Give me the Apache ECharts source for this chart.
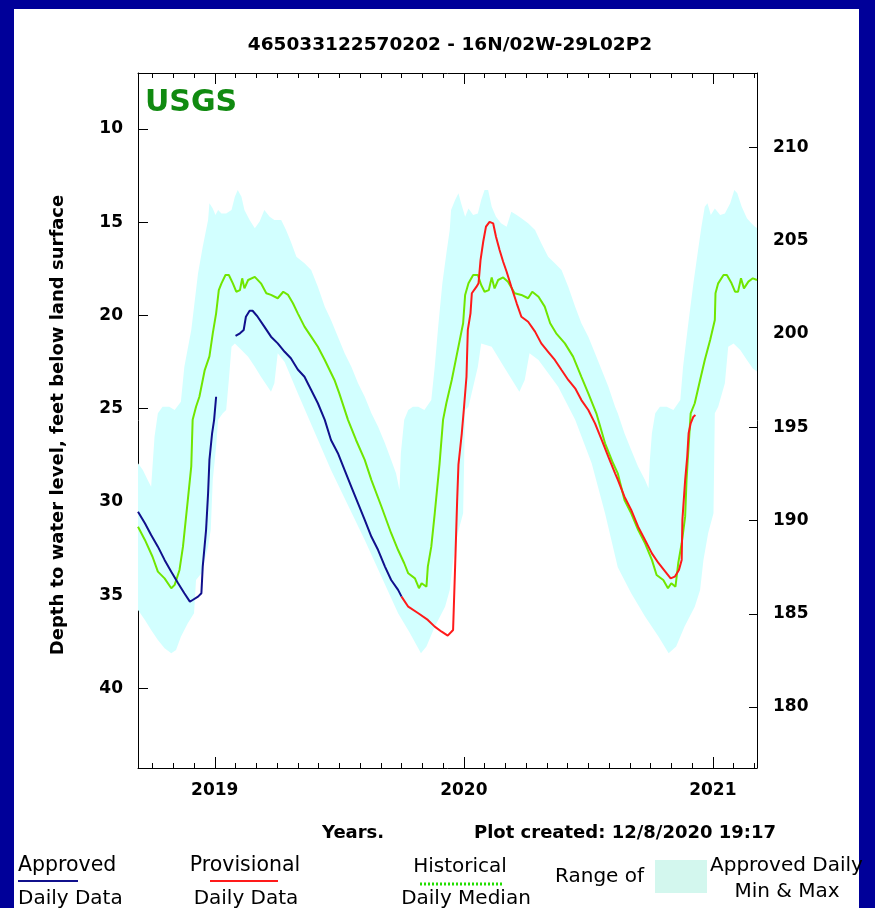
<!DOCTYPE html>
<html>
<head>
<meta charset="utf-8">
<script src="https://cdn.jsdelivr.net/npm/echarts@6/dist/echarts.min.js"></script>
<style>
  html, body { margin: 0; padding: 0; background: #000099; width: 875px; height: 908px; overflow: hidden; }
  #panel { position: absolute; left: 14px; top: 9px; width: 845px; height: 899px; background: #ffffff; }
  #chart { position: absolute; left: 0; top: 0; width: 875px; height: 908px; }
</style>
</head>
<body>
<div id="panel"></div>
<div id="chart"></div>
<script>
// ---------------- data (depth to water, feet below land surface) ----------------
const LAND_SURFACE = 221;            // right axis = land surface elevation - depth
const X_START = '2018-09-10';
const X_END = '2021-03-05';
const DEPTH_TOP = 7.0;
const DEPTH_BOTTOM = 44.27;
const depthTicks = [10, 15, 20, 25, 30, 35, 40];
const yearTicks = ['2019', '2020', '2021'];

const historicalMedian = [
['2018-09-10',31.33],['2018-09-20',32.04],['2018-10-01',32.94],['2018-10-09',33.74],['2018-10-19',34.1],['2018-10-29',34.63],['2018-11-03',34.45],['2018-11-10',33.65],['2018-11-15',32.4],['2018-11-22',29.9],['2018-11-27',28.1],['2018-11-29',25.6],['2018-12-04',24.9],['2018-12-09',24.36],['2018-12-17',22.93],['2018-12-24',22.2],['2018-12-29',20.96],['2019-01-03',19.89],['2019-01-07',18.64],['2019-01-11',18.28],['2019-01-17',17.83],['2019-01-22',17.83],['2019-01-28',18.28],['2019-02-02',18.73],['2019-02-07',18.64],['2019-02-10',18.01],['2019-02-13',18.55],['2019-02-18',18.1],['2019-02-27',17.93],['2019-03-08',18.28],['2019-03-16',18.81],['2019-03-23',18.9],['2019-04-02',19.08],['2019-04-10',18.73],['2019-04-17',18.9],['2019-04-24',19.35],['2019-05-01',19.89],['2019-05-11',20.6],['2019-05-21',21.14],['2019-05-31',21.68],['2019-06-10',22.39],['2019-06-24',23.46],['2019-07-01',24.18],['2019-07-14',25.6],['2019-07-26',26.68],['2019-08-08',27.75],['2019-08-18',28.83],['2019-09-02',30.26],['2019-09-16',31.68],['2019-09-26',32.58],['2019-10-05',33.29],['2019-10-11',33.83],['2019-10-21',34.1],['2019-10-27',34.63],['2019-10-31',34.36],['2019-11-07',34.55],['2019-11-09',33.47],['2019-11-14',32.4],['2019-11-19',30.61],['2019-11-26',27.93],['2019-12-01',25.6],['2019-12-06',24.7],['2019-12-14',23.46],['2019-12-21',22.21],['2019-12-31',20.42],['2020-01-03',18.9],['2020-01-08',18.28],['2020-01-15',17.83],['2020-01-22',17.83],['2020-01-27',18.37],['2020-02-01',18.73],['2020-02-07',18.64],['2020-02-11',17.96],['2020-02-15',18.55],['2020-02-20',18.1],['2020-02-27',17.96],['2020-03-05',18.19],['2020-03-15',18.81],['2020-03-25',18.9],['2020-04-04',19.08],['2020-04-10',18.73],['2020-04-19',19.0],['2020-04-28',19.53],['2020-05-06',20.42],['2020-05-15',20.96],['2020-05-28',21.5],['2020-06-09',22.21],['2020-06-21',23.29],['2020-07-01',24.18],['2020-07-13',25.25],['2020-07-26',26.86],['2020-08-07',27.93],['2020-08-14',28.47],['2020-08-24',29.9],['2020-09-03',30.61],['2020-09-13',31.5],['2020-09-23',32.22],['2020-10-03',33.11],['2020-10-10',33.92],['2020-10-20',34.19],['2020-10-27',34.63],['2020-11-01',34.36],['2020-11-07',34.55],['2020-11-11',33.29],['2020-11-16',32.22],['2020-11-21',30.79],['2020-11-23',28.83],['2020-11-25',27.58],['2020-11-29',25.25],['2020-12-05',24.71],['2020-12-13',23.46],['2020-12-20',22.39],['2020-12-28',21.32],['2021-01-04',20.25],['2021-01-05',18.81],['2021-01-09',18.28],['2021-01-17',17.83],['2021-01-22',17.83],['2021-01-29',18.28],['2021-02-03',18.73],['2021-02-07',18.73],['2021-02-11',18.01],['2021-02-15',18.55],['2021-02-21',18.19],['2021-02-27',18.01],['2021-03-05',18.1]
];

const approvedPart1 = [
['2018-09-10',30.53],['2018-09-20',31.15],['2018-09-29',31.78],['2018-10-09',32.4],['2018-10-19',33.11],['2018-10-29',33.74],['2018-11-08',34.36],['2018-11-17',34.9],['2018-11-25',35.35],['2018-11-29',35.26],['2018-12-07',35.08],['2018-12-12',34.9],['2018-12-14',33.47],['2018-12-19',31.5],['2018-12-22',29.54],['2018-12-24',27.75],['2018-12-28',26.32],['2018-12-31',25.6],['2019-01-03',24.36]
];

const approvedPart2 = [
['2019-02-01',21.1],['2019-02-07',20.96],['2019-02-12',20.78],['2019-02-15',20.07],['2019-02-20',19.75],['2019-02-24',19.75],['2019-03-03',20.07],['2019-03-13',20.6],['2019-03-23',21.14],['2019-04-02',21.5],['2019-04-12',21.95],['2019-04-21',22.3],['2019-05-01',22.9],['2019-05-11',23.29],['2019-05-21',24.0],['2019-05-31',24.71],['2019-06-10',25.6],['2019-06-19',26.68],['2019-06-29',27.39],['2019-07-09',28.29],['2019-07-19',29.19],['2019-07-29',30.08],['2019-08-08',30.97],['2019-08-18',31.87],['2019-08-28',32.58],['2019-09-07',33.47],['2019-09-16',34.19],['2019-09-26',34.72],['2019-10-01',35.08]
];

const provisional = [
['2019-10-01',35.08],['2019-10-11',35.62],['2019-10-26',35.97],['2019-11-09',36.33],['2019-11-19',36.69],['2019-11-29',36.96],['2019-12-08',37.17],['2019-12-16',36.87],['2019-12-19',33.5],['2019-12-22',30.0],['2019-12-24',28.0],['2019-12-27',27.0],['2019-12-29',26.32],['2020-01-01',25.07],['2020-01-05',23.29],['2020-01-07',20.78],['2020-01-11',19.89],['2020-01-13',18.81],['2020-01-20',18.46],['2020-01-23',18.28],['2020-01-26',17.03],['2020-01-30',16.05],['2020-02-03',15.24],['2020-02-08',14.98],['2020-02-13',15.06],['2020-02-17',15.78],['2020-02-22',16.49],['2020-02-27',17.12],['2020-03-03',17.66],['2020-03-10',18.46],['2020-03-18',19.35],['2020-03-25',20.07],['2020-04-04',20.34],['2020-04-14',20.87],['2020-04-23',21.5],['2020-05-03',21.95],['2020-05-13',22.39],['2020-05-23',22.93],['2020-06-02',23.46],['2020-06-12',23.91],['2020-06-21',24.54],['2020-07-01',25.07],['2020-07-11',25.79],['2020-07-21',26.68],['2020-07-31',27.58],['2020-08-10',28.47],['2020-08-14',28.8],['2020-08-24',29.72],['2020-09-03',30.43],['2020-09-13',31.33],['2020-09-23',32.04],['2020-10-03',32.76],['2020-10-13',33.29],['2020-10-23',33.74],['2020-10-31',34.1],['2020-11-06',34.01],['2020-11-12',33.65],['2020-11-16',33.11],['2020-11-17',30.97],['2020-11-21',28.83],['2020-11-24',27.58],['2020-11-26',26.32],['2020-11-29',25.79],['2020-12-03',25.43],['2020-12-06',25.34]
];

const rangeMinDepth = [
['2018-09-10',27.93],['2018-09-17',28.29],['2018-09-24',28.83],['2018-09-29',29.19],['2018-10-04',26.5],['2018-10-09',25.25],['2018-10-16',24.9],['2018-10-26',24.9],['2018-11-03',25.07],['2018-11-12',24.63],['2018-11-17',22.75],['2018-11-27',20.78],['2018-12-07',17.74],['2018-12-14',16.32],['2018-12-22',14.88],['2018-12-24',13.99],['2018-12-29',14.26],['2019-01-02',14.62],['2019-01-06',14.35],['2019-01-11',14.53],['2019-01-18',14.53],['2019-01-26',14.35],['2019-01-31',13.64],['2019-02-04',13.27],['2019-02-09',13.64],['2019-02-13',14.35],['2019-02-20',14.88],['2019-02-27',15.33],['2019-03-06',14.97],['2019-03-13',14.35],['2019-03-21',14.71],['2019-03-28',14.88],['2019-04-07',14.88],['2019-04-14',15.42],['2019-04-21',16.05],['2019-04-29',16.85],['2019-05-11',17.2],['2019-05-21',17.57],['2019-05-31',18.46],['2019-06-10',19.53],['2019-06-19',20.25],['2019-06-29',21.14],['2019-07-09',22.03],['2019-07-19',22.75],['2019-07-29',23.64],['2019-08-08',24.36],['2019-08-18',25.25],['2019-08-28',25.97],['2019-09-07',26.86],['2019-09-16',27.75],['2019-09-23',28.47],['2019-09-28',29.36],['2019-09-30',27.39],['2019-10-05',25.6],['2019-10-11',25.07],['2019-10-18',24.9],['2019-10-26',24.9],['2019-11-04',25.07],['2019-11-14',24.54],['2019-11-19',22.75],['2019-11-24',20.6],['2019-11-30',18.28],['2019-12-06',16.67],['2019-12-11',15.42],['2019-12-13',14.35],['2019-12-19',13.81],['2019-12-24',13.45],['2019-12-28',13.99],['2020-01-03',14.71],['2020-01-08',14.26],['2020-01-15',14.62],['2020-01-22',14.53],['2020-01-27',13.81],['2020-02-01',13.27],['2020-02-06',13.27],['2020-02-11',14.17],['2020-02-17',14.71],['2020-02-24',15.06],['2020-03-03',15.24],['2020-03-10',14.44],['2020-03-18',14.62],['2020-03-25',14.79],['2020-04-04',15.06],['2020-04-14',15.42],['2020-04-23',16.13],['2020-05-03',16.85],['2020-05-13',17.2],['2020-05-23',17.57],['2020-06-02',18.46],['2020-06-12',19.53],['2020-06-21',20.42],['2020-07-01',21.14],['2020-07-11',22.03],['2020-07-21',22.93],['2020-07-31',23.82],['2020-08-10',24.9],['2020-08-14',25.25],['2020-08-24',26.32],['2020-09-03',27.22],['2020-09-13',28.11],['2020-09-23',28.83],['2020-09-28',29.27],['2020-09-30',27.75],['2020-10-03',26.32],['2020-10-08',25.25],['2020-10-15',24.9],['2020-10-25',24.9],['2020-11-04',25.07],['2020-11-14',24.54],['2020-11-18',22.75],['2020-11-25',20.6],['2020-12-03',18.28],['2020-12-10',16.49],['2020-12-15',15.24],['2020-12-20',14.17],['2020-12-24',13.99],['2020-12-29',14.62],['2021-01-04',14.26],['2021-01-12',14.62],['2021-01-19',14.53],['2021-01-27',13.99],['2021-02-02',13.27],['2021-02-06',13.45],['2021-02-12',14.17],['2021-02-19',14.79],['2021-02-25',15.06],['2021-03-02',15.24],['2021-03-06',15.33]
];

const rangeMaxDepth = [
['2018-09-10',35.8],['2018-09-20',36.33],['2018-09-29',36.87],['2018-10-09',37.4],['2018-10-19',37.85],['2018-10-29',38.12],['2018-11-05',37.94],['2018-11-12',37.23],['2018-11-22',36.51],['2018-12-01',35.97],['2018-12-04',34.19],['2018-12-12',33.83],['2018-12-22',32.4],['2018-12-26',31.5],['2018-12-29',28.83],['2019-01-03',27.04],['2019-01-06',25.6],['2019-01-13',25.25],['2019-01-18',25.07],['2019-01-22',23.46],['2019-01-26',21.68],['2019-01-31',21.5],['2019-02-09',21.86],['2019-02-18',22.21],['2019-02-27',22.75],['2019-03-08',23.29],['2019-03-18',23.82],['2019-03-23',24.09],['2019-03-28',23.64],['2019-04-02',22.03],['2019-04-12',22.5],['2019-05-01',24.18],['2019-06-19',28.29],['2019-08-08',32.04],['2019-09-26',35.97],['2019-10-13',37.0],['2019-10-30',38.12],['2019-11-07',37.76],['2019-11-19',36.69],['2019-12-04',35.62],['2019-12-11',34.72],['2019-12-16',33.11],['2019-12-23',31.68],['2019-12-31',30.61],['2020-01-03',25.07],['2020-01-08',24.9],['2020-01-22',22.75],['2020-01-27',21.5],['2020-02-11',21.68],['2020-02-28',22.75],['2020-03-22',24.09],['2020-03-30',23.46],['2020-04-06',22.03],['2020-04-19',22.39],['2020-05-18',23.82],['2020-06-12',25.6],['2020-07-06',27.93],['2020-07-26',30.61],['2020-08-14',33.5],['2020-09-03',34.9],['2020-09-23',36.15],['2020-10-13',37.23],['2020-10-28',38.12],['2020-11-08',37.76],['2020-11-20',36.69],['2020-12-05',35.62],['2020-12-13',34.72],['2020-12-18',33.11],['2020-12-25',31.68],['2021-01-02',30.61],['2021-01-04',25.25],['2021-01-09',24.9],['2021-01-19',23.64],['2021-01-24',21.68],['2021-02-01',21.5],['2021-02-10',21.86],['2021-02-19',22.39],['2021-02-27',22.84],['2021-03-06',23.04]
];

// ---------------- helpers ----------------
// date string -> months since Jan 2018 (so monthly ticks are whole numbers)
function toMonth(s) {
  const p = s.split('-').map(Number);
  const dim = new Date(p[0], p[1], 0).getDate();
  return (p[0] - 2018) * 12 + (p[1] - 1) + (p[2] - 1) / dim;
}
const conv = arr => arr.map(d => [toMonth(d[0]), d[1]]);
const xMin = toMonth(X_START), xMax = toMonth(X_END);
const yearMonths = yearTicks.map(y => (Number(y) - 2018) * 12);

const FONT = 'DejaVu Sans, Liberation Sans, Arial, sans-serif';
const BLUE = '#10108c', RED = '#ff1a1a', GREEN = '#70e600', BAND = '#d2ffff';
const INK = '#000';

const chart = echarts.init(document.getElementById('chart'), null, { renderer: 'canvas' });

const baseX = {
  type: 'value', min: xMin, max: xMax, splitLine: { show: false },
  axisLine: { show: true, lineStyle: { color: INK, width: 1 } }
};

const option = {
  animation: false,
  backgroundColor: 'transparent',
  grid: { left: 138, top: 73, width: 619, height: 695, containLabel: false },
  xAxis: [
    Object.assign({}, baseX, { position: 'bottom', minInterval: 1, maxInterval: 1, splitNumber: 30,
      axisTick: { inside: true, length: 5, lineStyle: { color: INK } }, axisLabel: { show: false } }),
    Object.assign({}, baseX, { position: 'bottom', minInterval: 12, maxInterval: 12, splitNumber: 3,
      axisLine: { show: false },
      axisTick: { inside: true, length: 11, lineStyle: { color: INK } },
      axisLabel: { show: true, margin: 14, color: INK, fontFamily: FONT, fontWeight: 'bold', fontSize: 17,
        formatter: v => { const i = yearMonths.indexOf(Math.round(v)); return (Math.abs(v - Math.round(v)) < 1e-6 && i >= 0) ? yearTicks[i] : ''; } } }),
    Object.assign({}, baseX, { position: 'top', minInterval: 1, maxInterval: 1, splitNumber: 30,
      axisTick: { inside: true, length: 5, lineStyle: { color: INK } }, axisLabel: { show: false } }),
    Object.assign({}, baseX, { position: 'top', minInterval: 12, maxInterval: 12, splitNumber: 3,
      axisLine: { show: false },
      axisTick: { inside: true, length: 11, lineStyle: { color: INK } }, axisLabel: { show: false } })
  ],
  yAxis: [
    { type: 'value', position: 'left', inverse: true, min: DEPTH_TOP, max: DEPTH_BOTTOM,
      minInterval: 5, maxInterval: 5, splitNumber: 7, splitLine: { show: false },
      axisLine: { show: true, lineStyle: { color: INK, width: 1 } },
      axisTick: { inside: true, length: 10, lineStyle: { color: INK } },
      axisLabel: { margin: 15, color: INK, fontFamily: FONT, fontWeight: 'bold', fontSize: 17,
        formatter: v => depthTicks.indexOf(Math.round(v)) >= 0 && Math.abs(v - Math.round(v)) < 1e-6 ? String(Math.round(v)) : '' } },
    { type: 'value', position: 'right', min: LAND_SURFACE - DEPTH_BOTTOM, max: LAND_SURFACE - DEPTH_TOP,
      minInterval: 5, maxInterval: 5, splitNumber: 7, splitLine: { show: false },
      axisLine: { show: true, lineStyle: { color: INK, width: 1 } },
      axisTick: { inside: true, length: 8, lineStyle: { color: INK } },
      axisLabel: { margin: 16, color: INK, fontFamily: FONT, fontWeight: 'bold', fontSize: 17,
        formatter: v => (Math.abs(v / 5 - Math.round(v / 5)) < 1e-6) ? String(Math.round(v)) : '' } }
  ],
  series: [
    {
      type: 'custom', name: 'Range of Approved Daily Min & Max', xAxisIndex: 0, yAxisIndex: 0,
      clip: true, z: 1, silent: true,
      data: [[xMin, DEPTH_TOP]],
      renderItem: function (params, api) {
        const upper = conv(rangeMinDepth).map(p => api.coord(p));
        const lower = conv(rangeMaxDepth).map(p => api.coord(p)).reverse();
        return { type: 'polygon', shape: { points: upper.concat(lower) }, style: { fill: BAND, stroke: null } };
      }
    },
    { type: 'line', name: 'Historical Daily Median', data: conv(historicalMedian), showSymbol: false, symbol: 'none',
      lineStyle: { color: GREEN, width: 2 }, z: 3, clip: true },
    { type: 'line', name: 'Approved Daily Data', data: conv(approvedPart1), showSymbol: false, symbol: 'none',
      lineStyle: { color: BLUE, width: 2 }, z: 4, clip: true },
    { type: 'line', name: 'Approved Daily Data', data: conv(approvedPart2), showSymbol: false, symbol: 'none',
      lineStyle: { color: BLUE, width: 2 }, z: 4, clip: true },
    { type: 'line', name: 'Provisional Daily Data', data: conv(provisional), showSymbol: false, symbol: 'none',
      lineStyle: { color: RED, width: 2 }, z: 4, clip: true }
  ],
  graphic: [
    { type: 'text', x: 450, y: 45, style: { text: '465033122570202 - 16N/02W-29L02P2', font: 'bold 18.5px ' + FONT, fill: INK, align: 'center', verticalAlign: 'middle' } },
    { type: 'text', x: 145, y: 103, z: 10, style: { text: 'USGS', font: 'bold 30px ' + FONT, fill: '#108a10', align: 'left', verticalAlign: 'middle' } },
    { type: 'text', x: 58, y: 425, rotation: Math.PI / 2, style: { text: 'Depth to water level, feet below land surface', font: 'bold 18px ' + FONT, fill: INK, align: 'center', verticalAlign: 'middle' } },
    { type: 'text', x: 322, y: 833, style: { text: 'Years.', font: 'bold 18px ' + FONT, fill: INK, align: 'left', verticalAlign: 'middle' } },
    { type: 'text', x: 474, y: 833, style: { text: 'Plot created: 12/8/2020 19:17', font: 'bold 18px ' + FONT, fill: INK, align: 'left', verticalAlign: 'middle' } },

    { type: 'text', x: 18, y: 866, style: { text: 'Approved', font: '20.5px ' + FONT, fill: INK, align: 'left', verticalAlign: 'middle' } },
    { type: 'line', shape: { x1: 18, y1: 881, x2: 78, y2: 881 }, style: { stroke: BLUE, lineWidth: 2 } },
    { type: 'text', x: 18, y: 899, style: { text: 'Daily Data', font: '20px ' + FONT, fill: INK, align: 'left', verticalAlign: 'middle' } },

    { type: 'text', x: 245, y: 866, style: { text: 'Provisional', font: '20.5px ' + FONT, fill: INK, align: 'center', verticalAlign: 'middle' } },
    { type: 'line', shape: { x1: 210, y1: 881, x2: 278, y2: 881 }, style: { stroke: RED, lineWidth: 2 } },
    { type: 'text', x: 246, y: 899, style: { text: 'Daily Data', font: '20px ' + FONT, fill: INK, align: 'center', verticalAlign: 'middle' } },

    { type: 'text', x: 460, y: 867, style: { text: 'Historical', font: '20px ' + FONT, fill: INK, align: 'center', verticalAlign: 'middle' } },
    { type: 'line', shape: { x1: 420, y1: 884, x2: 502, y2: 884 }, style: { stroke: '#22dd00', lineWidth: 3, lineDash: [2, 2] } },
    { type: 'text', x: 466, y: 899, style: { text: 'Daily Median', font: '20px ' + FONT, fill: INK, align: 'center', verticalAlign: 'middle' } },

    { type: 'text', x: 555, y: 877, style: { text: 'Range of', font: '20px ' + FONT, fill: INK, align: 'left', verticalAlign: 'middle' } },
    { type: 'rect', shape: { x: 655, y: 860, width: 52, height: 33 }, style: { fill: '#d3f7ee' } },
    { type: 'text', x: 710, y: 866, style: { text: 'Approved Daily', font: '20px ' + FONT, fill: INK, align: 'left', verticalAlign: 'middle' } },
    { type: 'text', x: 787, y: 892, style: { text: 'Min & Max', font: '20px ' + FONT, fill: INK, align: 'center', verticalAlign: 'middle' } }
  ]
};
chart.setOption(option);
</script>
</body>
</html>
